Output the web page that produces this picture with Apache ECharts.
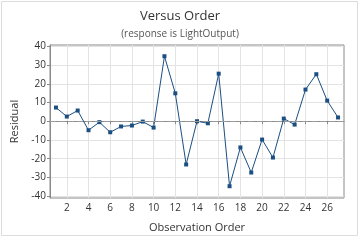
<!DOCTYPE html>
<html><head><meta charset="utf-8">
<script src="https://cdn.jsdelivr.net/npm/echarts@6/dist/echarts.min.js"></script>
<style>html,body{margin:0;padding:0;background:#fff}#c{width:360px;height:240px}</style>
</head><body><div id="c"></div>
<script>
const order = [1,2,3,4,5,6,7,8,9,10,11,12,13,14,15,16,17,18,19,20,21,22,23,24,25,26,27];
const residual = [7.3,2.5,5.7,-4.8,-0.5,-5.9,-2.8,-2.3,-0.2,-3.4,34.7,14.9,-23.1,0,-1.1,25.4,-34.7,-14.0,-27.4,-9.8,-19.4,1.4,-1.8,16.9,25.1,11.0,2.0];
const xTicks = [2,4,6,8,10,12,14,16,18,20,22,24,26];
const yTicks = [-40,-30,-20,-10,0,10,20,30,40];
const FONT = '"Open Sans", sans-serif';
const chart = echarts.init(document.getElementById('c'), null, {renderer:'canvas'});
chart.setOption({
  animation:false,
  backgroundColor:'#fff',
  title:[
    {text:'Versus Order', left:'center', top:5, textStyle:{fontFamily:FONT, fontSize:13, fontWeight:'normal', color:'#333'}},
    {text:'(response is LightOutput)', left:'center', top:24, textStyle:{fontFamily:FONT, fontSize:10, fontWeight:'normal', color:'#555'}}
  ],
  graphic:[{type:'rect', shape:{x:1.5,y:1.5,width:356,height:234}, style:{fill:'none', stroke:'#dcdcdc', lineWidth:1}, silent:true}],
  grid:{left:50, right:16, top:45, bottom:42, show:true, borderColor:'#8a8a8a', borderWidth:1, backgroundColor:'#fff'},
  xAxis:{type:'value', min:0.45, max:27.55, name:'Observation Order', nameLocation:'middle', nameGap:24,
    nameTextStyle:{fontFamily:FONT, fontSize:11, color:'#333'},
    axisLine:{show:true, lineStyle:{color:'#8a8a8a'}},
    axisTick:{show:true, length:3, customValues:xTicks, lineStyle:{color:'#8a8a8a'}},
    axisLabel:{customValues:xTicks, fontFamily:FONT, fontSize:10, color:'#333', margin:5},
    splitLine:{show:true, lineStyle:{color:'#e3e3e3', width:1}}},
  yAxis:{type:'value', min:-41, max:40.7, name:'Residual', nameLocation:'middle', nameGap:25, nameRotate:90,
    nameTextStyle:{fontFamily:FONT, fontSize:11, color:'#333'},
    axisLine:{show:true, lineStyle:{color:'#8a8a8a'}},
    axisTick:{show:true, length:3, customValues:yTicks, lineStyle:{color:'#8a8a8a'}},
    axisLabel:{customValues:yTicks, fontFamily:FONT, fontSize:10, color:'#333', margin:4},
    splitLine:{show:true, lineStyle:{color:'#e3e3e3', width:1}}},
  series:[{type:'line', data:order.map((o,i)=>[o,residual[i]]), symbol:'rect', symbolSize:4, showSymbol:true,
    lineStyle:{color:'#1b4f82', width:1}, itemStyle:{color:'#1b4f82'},
    markLine:{silent:true, symbol:'none', label:{show:false}, lineStyle:{color:'#9a9a9a', type:[6,3], width:1}, data:[{yAxis:0}]}}]
});
</script></body></html>
